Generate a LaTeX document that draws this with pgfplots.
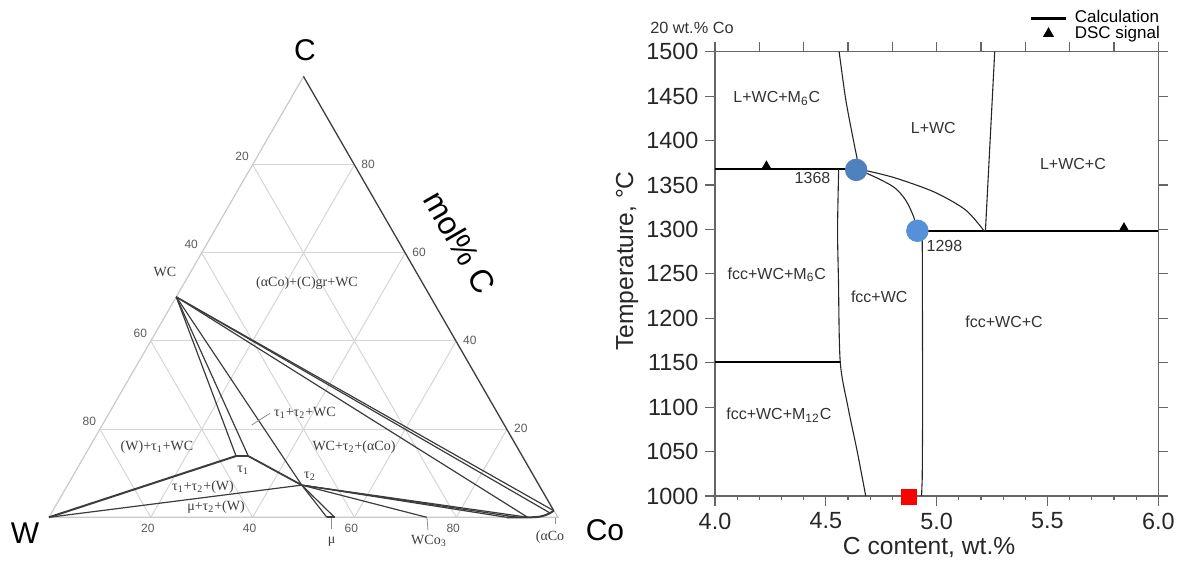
\documentclass[border=0pt]{standalone}
\usepackage{pgfplots}
\pgfplotsset{compat=1.18}
\usepackage{fontspec}
\setmainfont{Liberation Sans}
\newfontfamily\serif{Liberation Serif}
\definecolor{gridgray}{HTML}{D6D6D6}
\definecolor{edgegray}{HTML}{CACACA}
\definecolor{dark}{HTML}{3C3C3C}
\definecolor{labgray}{HTML}{5A5A5A}
\definecolor{blueA}{HTML}{4F81BD}
\definecolor{blueB}{HTML}{5590D8}
\pgfplotsset{
  gridl/.style={gridgray, line width=0.5pt, no marks},
  tern/.style={dark, line width=0.6pt, no marks},
  ternthick/.style={dark, line width=1.0pt, no marks},
  thinb/.style={black!85, line width=0.55pt, no marks, forget plot},
  thickb/.style={black, line width=1.3pt, no marks},
}
\begin{document}
\begin{tikzpicture}
\useasboundingbox (0,0) rectangle (592pt,281pt);
% ================= ternary (coordinates: Co mol%, C mol%) =================
\begin{axis}[
  x={(2.545pt,0pt)}, y={(1.2725pt,2.204pt)},
  xmin=0, xmax=100, ymin=0, ymax=100,
  hide axis, clip=false,
  anchor=origin, at={(24.5pt,22.35pt)},
]
% grid
\addplot[gridl] coordinates {(0,20) (80,20)};
\addplot[gridl] coordinates {(0,40) (60,40)};
\addplot[gridl] coordinates {(0,60) (40,60)};
\addplot[gridl] coordinates {(0,80) (20,80)};
\addplot[gridl] coordinates {(20,0) (20,80)};
\addplot[gridl] coordinates {(40,0) (40,60)};
\addplot[gridl] coordinates {(60,0) (60,40)};
\addplot[gridl] coordinates {(80,0) (80,20)};
\addplot[gridl] coordinates {(20,0) (0,20)};
\addplot[gridl] coordinates {(40,0) (0,40)};
\addplot[gridl] coordinates {(60,0) (0,60)};
\addplot[gridl] coordinates {(80,0) (0,80)};
\addplot[edgegray, line width=0.6pt, no marks] coordinates {(0,0) (100,0) (0,100) (0,0)};
% phase boundaries
\addplot[tern] coordinates {(0,100) (98.4,1.5)};
\addplot[tern] coordinates {(0,50) (98.4,1.5)};
\addplot[tern] coordinates {(0,50) (97.9,1.0)};
\addplot[tern] coordinates {(0,50) (94,0.02)};
\addplot[tern] coordinates {(0,50) (29.8,13.9)};
\addplot[tern] coordinates {(0,50) (32.2,13.9)};
\addplot[tern] coordinates {(0,50) (46,7.3)};
\addplot[ternthick] coordinates {(29.8,13.9) (32.2,13.9)};
\addplot[ternthick] coordinates {(0,0) (29.8,13.9)};
\addplot[tern, line width=0.9pt] coordinates {(32.2,13.9) (46,7.3)};
\addplot[tern] coordinates {(0,0) (46,7.3)};
\addplot[tern] coordinates {(46,7.3) (54.6,0)};
\addplot[tern] coordinates {(46,7.3) (56.1,0)};
\addplot[ternthick] coordinates {(54.6,0) (56.1,0)};
\addplot[tern] coordinates {(46,7.3) (74.2,0)};
\addplot[tern] coordinates {(46,7.3) (89.9,0)};
\addplot[tern] coordinates {(46,7.3) (92,0.01)};
\addplot[tern] coordinates {(46,7.3) (94,0.02)};
\addplot[ternthick, smooth] coordinates {(89.9,0) (95.5,0.03) (97.2,0.45) (98.0,1.0) (98.4,1.5)};
\end{axis}
% ternary texts (pixel coordinates)
\begin{scope}[x=0.5pt,y=-0.5pt,shift={(0pt,281pt)}]
\node[font=\fontsize{15}{18}\selectfont] at (305,50) {C};
\node[font=\fontsize{15}{18}\selectfont] at (25,533) {W};
\node[font=\fontsize{15}{18}\selectfont] at (605,530) {Co};
\node[font=\fontsize{16}{19}\selectfont, rotate=-60] at (460,242) {mol\% C};
\begin{scope}[every node/.style={font=\fontsize{6}{7}\selectfont, text=labgray, inner sep=0pt}]
\node at (242,156.7) {20};
\node at (191.2,244.8) {40};
\node at (140.3,333) {60};
\node at (89.4,421) {80};
\node at (368.1,164.1) {80};
\node at (419,252.2) {60};
\node at (469.9,340.4) {40};
\node at (520.8,428.5) {20};
\node at (147.8,528.3) {20};
\node at (249.6,528.3) {40};
\node at (351.4,528.3) {60};
\node at (453.2,528.3) {80};
\end{scope}
\begin{scope}[every node/.style={font=\serif\fontsize{7}{8}\selectfont, text=dark, inner sep=0pt}]
\node at (165,272) {WC};
\node at (307,283) {(αCo)+(C)gr+WC};
\node at (305,413) {τ\textsubscript{1}+τ\textsubscript{2}+WC};
\node at (157,447) {(W)+τ\textsubscript{1}+WC};
\node at (354,447.5) {WC+τ\textsubscript{2}+(αCo)};
\node at (243.3,470) {τ\textsubscript{1}};
\node at (310,476) {τ\textsubscript{2}};
\node at (203,487) {τ\textsubscript{1}+τ\textsubscript{2}+(W)};
\node at (216,507) {μ+τ\textsubscript{2}+(W)};
\node at (331.7,542) {μ};
\node at (429,541) {WCo\textsubscript{3}};
\node at (550,537) {(αCo};
\end{scope}
\draw[black!45, line width=0.4pt] (251.7,425) -- (270,413.3);
\draw[black!45, line width=0.4pt] (331.7,518) -- (331.7,529);
\draw[black!45, line width=0.4pt] (427,518) -- (428,530);
\draw[black!45, line width=0.4pt] (555,518) -- (555,524);
\end{scope}
% ================= isopleth =================
\begin{axis}[
  at={(357.5pt,33pt)}, anchor=south west,
  scale only axis, width=221.65pt, height=222.15pt,
  xmin=4, xmax=6, ymin=1000, ymax=1500,
  clip=false,
  xtick={4,4.5,5,5.5,6}, minor x tick num=4,
  ytick={1000,1050,1100,1150,1200,1250,1300,1350,1400,1450,1500},
  xtick pos=left, ytick pos=both, yticklabel pos=left,
  tick align=outside,
  major tick length=4.8pt, minor tick length=2pt,
  axis line style={draw=black!60, line width=0.55pt},
  every tick/.style={draw=black!60, line width=0.55pt},
  /pgf/number format/assume math mode=true,
  tick label style={font=\fontsize{11.7}{13}\selectfont, text=black!85},
  xticklabel style={/pgf/number format/.cd, fixed, fixed zerofill, precision=1},
  yticklabel style={/pgf/number format/.cd, fixed, 1000 sep={}},
  xlabel={C content, wt.\%},
  xlabel style={at={(axis description cs:0.483,-0.117)}, anchor=center, font=\fontsize{12.3}{14}\selectfont, text=black!85},
  ylabel={Temperature, °C},
  ylabel style={at={(axis description cs:-0.1985,0.529)}, anchor=center, font=\fontsize{12.3}{14}\selectfont, text=black!85},
  legend style={at={(rel axis cs:1,1)}, anchor=south east, xshift=1pt, yshift=5pt,
    draw=none, fill=none, inner sep=0pt, row sep=0pt, column sep=4pt,
    nodes={inner sep=0pt}, font=\fontsize{8.5}{9}\selectfont},
  legend cell align=left,
]
\addplot[thickb] coordinates {(4.91,1298) (6.0,1298)};
\addlegendentry{Calculation}
\addplot[thickb, forget plot] coordinates {(4.0,1368) (4.60,1368)};
\addplot[thickb, forget plot] coordinates {(4.0,1151) (4.565,1151)};
\addplot[thinb, smooth] coordinates {(4.56,1500) (4.59,1446) (4.624,1401) (4.645,1374) (4.64,1368)};
\addplot[thinb, smooth] coordinates {(4.64,1368) (4.72,1364) (4.825,1357) (4.99,1342) (5.13,1322) (5.215,1298)};
\addplot[thinb, smooth] coordinates {(4.64,1368) (4.73,1358) (4.81,1347) (4.86,1333) (4.895,1315) (4.913,1298)};
\addplot[thinb] coordinates {(5.262,1500) (5.22,1298)};
\addplot[thinb, smooth] coordinates {(4.558,1368) (4.553,1300) (4.557,1243) (4.565,1151) (4.60,1100) (4.641,1051) (4.68,1000)};
\addplot[thinb] coordinates {(4.935,1298) (4.937,1100) (4.935,1020) (4.932,1000)};
\addplot[only marks, mark=*, mark size=5.4pt, color=blueA, forget plot] coordinates {(4.637,1367)};
\addplot[only marks, mark=*, mark size=5.4pt, color=blueB, forget plot] coordinates {(4.913,1298.5)};
\addplot[only marks, mark=square*, mark size=3.75pt, color=red, forget plot] coordinates {(4.873,999)};
\addplot[only marks, mark=triangle*, mark size=2.8pt, color=black] coordinates {(4.232,1370.5) (5.845,1301)};
\addlegendentry{DSC signal}
\node[font=\fontsize{8}{9.6}\selectfont, text=black!80, inner sep=0pt] at (axis cs:4.279,1447.5) {L+WC+M\textsubscript{6}C};
\node[font=\fontsize{8}{9.6}\selectfont, text=black!80, inner sep=0pt] at (axis cs:4.985,1414) {L+WC};
\node[font=\fontsize{8}{9.6}\selectfont, text=black!80, inner sep=0pt] at (axis cs:5.615,1374) {L+WC+C};
\node[font=\fontsize{8}{9.6}\selectfont, text=black!80, inner sep=0pt] at (axis cs:4.279,1249) {fcc+WC+M\textsubscript{6}C};
\node[font=\fontsize{8}{9.6}\selectfont, text=black!80, inner sep=0pt] at (axis cs:4.741,1224) {fcc+WC};
\node[font=\fontsize{8}{9.6}\selectfont, text=black!80, inner sep=0pt] at (axis cs:5.304,1196) {fcc+WC+C};
\node[font=\fontsize{8}{9.6}\selectfont, text=black!80, inner sep=0pt] at (axis cs:4.288,1091) {fcc+WC+M\textsubscript{12}C};
\node[font=\fontsize{8}{9.6}\selectfont, text=black!80, inner sep=0pt] at (axis cs:4.44,1358) {1368};
\node[font=\fontsize{8}{9.6}\selectfont, text=black!80, inner sep=0pt] at (axis cs:5.035,1281) {1298};
\node[font=\fontsize{8.15}{9.6}\selectfont, text=black!80, inner sep=0pt] at (axis description cs:-0.052,1.053) {20 wt.\% Co};
\end{axis}
% top ticks
\begin{axis}[
  at={(357.5pt,33pt)}, anchor=south west,
  scale only axis, width=221.65pt, height=222.15pt,
  xmin=4, xmax=6, ymin=1000, ymax=1500,
  xtick={4,4.2,4.4,4.6,4.8,5,5.2,5.4,5.6,5.8,6}, xticklabels={},
  ytick=\empty, xtick pos=right,
  tick align=outside, major tick length=4.8pt,
  axis line style={draw=none},
  every tick/.style={draw=black!60, line width=0.55pt},
]
\end{axis}
\end{tikzpicture}
\end{document}
